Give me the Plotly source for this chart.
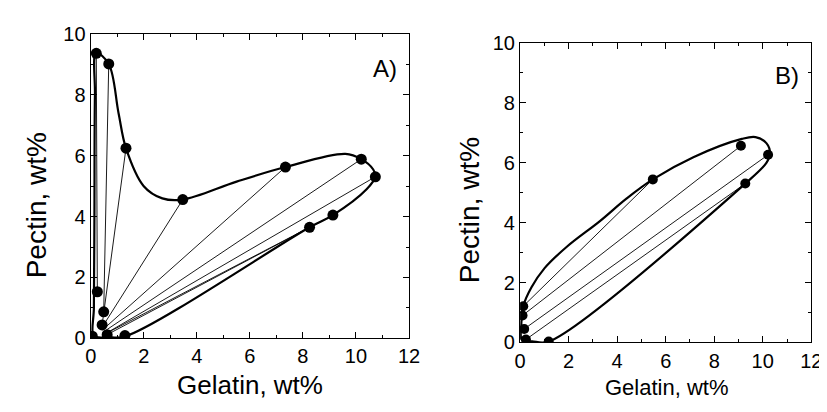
import plotly.graph_objects as go

# ---------------- Panel A data ----------------
A_binodal_x = [1.29, 0.64, 0.30, 0.10, 0.12, 0.14, 0.16, 0.21, 0.68, 1.05, 1.33, 2.0, 2.7, 3.47,
               5.5, 7.34, 9.6, 10.2, 10.65, 10.73, 10.4, 9.13, 8.25, 1.29]
A_binodal_y = [0.06, 0.04, 0.03, 0.10, 1.0, 4.0, 8.0, 9.37, 9.02, 7.4, 6.25, 5.0, 4.6, 4.56,
               5.15, 5.63, 6.06, 5.89, 5.55, 5.31, 4.9, 4.05, 3.65, 0.06]
A_points_x = [0.21, 0.68, 1.33, 3.47, 7.34, 10.2, 10.73, 9.13, 8.25, 0.25, 0.49, 0.43, 0.62, 1.29, 0.06]
A_points_y = [9.37, 9.02, 6.25, 4.56, 5.63, 5.89, 5.31, 4.05, 3.65, 1.53, 0.87, 0.44, 0.12, 0.09, 0.07]
A_tie_x1 = [0.21, 0.68, 1.33, 3.47, 7.34, 10.2, 10.73, 9.13, 8.25]
A_tie_y1 = [9.37, 9.02, 6.25, 4.56, 5.63, 5.89, 5.31, 4.05, 3.65]
A_tie_x2 = [0.25, 0.49, 0.43, 0.40, 0.45, 0.50, 0.55, 0.62, 0.45]
A_tie_y2 = [1.53, 0.87, 0.44, 0.32, 0.28, 0.22, 0.15, 0.12, 0.10]

# ---------------- Panel B data ----------------
B_binodal_x = [1.18, 0.5, 0.24, 0.06, 0.05, 0.13, 0.47, 1.01, 1.95, 3.29, 4.37, 5.47, 7.14, 9.14,
               9.7, 10.15, 10.3, 10.15, 9.28, 1.18]
B_binodal_y = [0.03, 0.04, 0.05, 0.10, 0.60, 1.21, 1.84, 2.48, 3.21, 4.05, 4.79, 5.44, 6.18, 6.79,
               6.85, 6.65, 6.30, 5.99, 5.30, 0.03]
B_points_x = [5.47, 9.1, 10.22, 9.28, 0.13, 0.10, 0.17, 0.24, 1.18]
B_points_y = [5.44, 6.56, 6.26, 5.30, 1.21, 0.90, 0.45, 0.10, 0.03]
B_tie_x1 = [5.47, 9.1, 10.22, 9.28]
B_tie_y1 = [5.44, 6.56, 6.26, 5.30]
B_tie_x2 = [0.13, 0.10, 0.17, 0.24]
B_tie_y2 = [1.21, 0.90, 0.45, 0.10]

x_ticks = [0, 2, 4, 6, 8, 10, 12]
y_ticks = [0, 2, 4, 6, 8, 10]

FONT = "Liberation Sans, Arial, sans-serif"


def tie_segments(x1, y1, x2, y2):
    xs, ys = [], []
    for a, b, c, d in zip(x1, y1, x2, y2):
        xs += [a, c, None]
        ys += [b, d, None]
    return xs, ys


fig = go.Figure()

for (bx, by, px, py, tx1, ty1, tx2, ty2, xa, ya, msize) in [
    (A_binodal_x, A_binodal_y, A_points_x, A_points_y, A_tie_x1, A_tie_y1, A_tie_x2, A_tie_y2, "x", "y", 11),
    (B_binodal_x, B_binodal_y, B_points_x, B_points_y, B_tie_x1, B_tie_y1, B_tie_x2, B_tie_y2, "x2", "y2", 10),
]:
    tx, ty = tie_segments(tx1, ty1, tx2, ty2)
    fig.add_trace(go.Scatter(x=tx, y=ty, mode="lines", line=dict(color="black", width=0.9),
                             xaxis=xa, yaxis=ya, showlegend=False, hoverinfo="skip"))
    fig.add_trace(go.Scatter(x=bx, y=by, mode="lines",
                             line=dict(color="black", width=2.2, shape="spline", smoothing=1.0),
                             xaxis=xa, yaxis=ya, showlegend=False))
    fig.add_trace(go.Scatter(x=px, y=py, mode="markers",
                             marker=dict(color="black", size=msize, line=dict(width=0)),
                             xaxis=xa, yaxis=ya, showlegend=False))

axis_common = dict(
    showline=True, linecolor="black", linewidth=1.3, mirror="allticks",
    ticks="inside", ticklen=6, tickwidth=1.2, tickcolor="black",
    showgrid=False, zeroline=False,
    tickfont=dict(family=FONT, size=20, color="black"),
    minor=dict(ticks="inside", ticklen=3, tickwidth=1, tickcolor="black", dtick=1, showgrid=False),
)

fig.update_layout(
    width=827, height=412,
    margin=dict(l=0, r=0, t=0, b=0),
    paper_bgcolor="white", plot_bgcolor="white",
    xaxis=dict(domain=[0.0947, 0.4877], range=[0, 12], tickvals=x_ticks, anchor="y", **axis_common),
    yaxis=dict(domain=[0.1813, 0.9612], range=[0, 10], tickvals=y_ticks, anchor="x", **axis_common),
    xaxis2=dict(domain=[0.6248, 0.9843], range=[0, 12], tickvals=x_ticks, anchor="y2", **axis_common),
    yaxis2=dict(domain=[0.1706, 0.9393], range=[0, 10], tickvals=y_ticks, anchor="x2", **axis_common),
)

annots = [
    dict(text="Gelatin, wt%", x=0.2912, y=0.0607, size=26, angle=0),
    dict(text="Pectin, wt%", x=0.0282, y=0.5218, size=28, angle=-90),
    dict(text="Gelatin, wt%", x=0.8061, y=0.0558, size=22, angle=0),
    dict(text="Pectin, wt%", x=0.5633, y=0.5105, size=28, angle=-90),
    dict(text="A)", x=0.4575, y=0.8726, size=24, angle=0),
    dict(text="B)", x=0.9543, y=0.8544, size=24, angle=0),
]
for a in annots:
    fig.add_annotation(text=a["text"], x=a["x"], y=a["y"], xref="paper", yref="paper",
                       xanchor="center", yanchor="middle", showarrow=False, textangle=a["angle"],
                       font=dict(family=FONT, size=a["size"], color="black"))

fig.write_html("out.html")
